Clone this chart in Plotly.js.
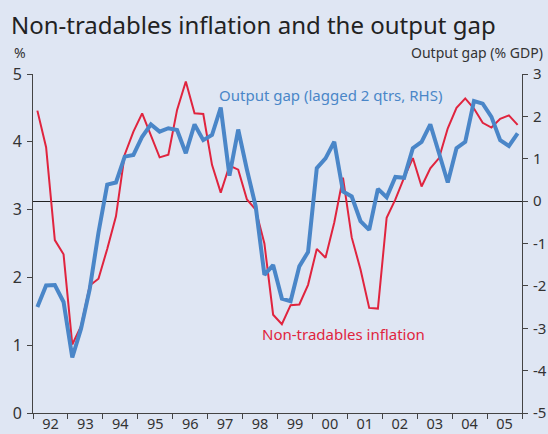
<!DOCTYPE html>
<html>
<head>
<meta charset="utf-8">
<script src="https://cdn.plot.ly/plotly-3.0.1.min.js"></script>
<style>
html,body{margin:0;padding:0;background:#dfe6f3;}
#chart{width:548px;height:434px;}
</style>
</head>
<body>
<div id="chart"></div>
<script>
// Quarterly data, 1992 Q1 to 2005 Q4
var startYear = 1992;
var yearLabels = ['92','93','94','95','96','97','98','99','00','01','02','03','04','05'];
var leftTicks = [0, 1, 2, 3, 4, 5];
var rightTicks = [-5, -4, -3, -2, -1, 0, 1, 2, 3];

// Non-tradables inflation (%, LHS)
var nonTradables = [
  4.46, 3.92, 2.55, 2.34,
  1.01, 1.28, 1.88, 1.98,
  2.42, 2.90, 3.81, 4.15,
  4.42, 4.10, 3.77, 3.81,
  4.47, 4.89, 4.42, 4.41,
  3.66, 3.25, 3.65, 3.59,
  3.15, 3.00, 2.50, 1.45,
  1.31, 1.59, 1.60, 1.89,
  2.42, 2.29, 2.81, 3.47,
  2.59, 2.12, 1.55, 1.54,
  2.88, 3.15, 3.47, 3.76,
  3.34, 3.61, 3.76, 4.20,
  4.50, 4.64, 4.49, 4.28,
  4.21, 4.34, 4.39, 4.25
];

// Output gap, lagged 2 quarters (% GDP, RHS)
var outputGap = [
  -2.50, -1.99, -1.98, -2.38,
  -3.69, -3.01, -2.07, -0.74,
   0.39,  0.44,  1.05,  1.09,
   1.52,  1.81,  1.64,  1.72,
   1.68,  1.13,  1.81,  1.44,
   1.56,  2.21,  0.60,  1.69,
   0.74, -0.12, -1.74, -1.51,
  -2.30, -2.36, -1.54, -1.20,
   0.78,  1.01,  1.40,  0.23,
   0.11, -0.47, -0.68,  0.29,
   0.09,  0.57,  0.55,  1.25,
   1.40,  1.81,  1.13,  0.44,
   1.25,  1.40,  2.36,  2.30,
   1.99,  1.44,  1.30,  1.60
];

// quarter mid-points as fractional years
var quarters = nonTradables.map(function(_, i){ return startYear + (i + 0.5) / 4; });
var yearTicks = yearLabels.map(function(_, i){ return startYear + i; }).concat([startYear + yearLabels.length]);
var yearMids = yearLabels.map(function(_, i){ return startYear + i + 0.5; });

var FONT = 'Noto Sans, Open Sans, sans-serif';
var BG = '#dfe6f3';
var BLUE = '#4a86c8';
var RED = '#e0243e';
var AX = '#444444';
var TXT = '#333333';

var traces = [
  {x: quarters, y: outputGap, yaxis: 'y2', xaxis: 'x', type: 'scatter', mode: 'lines',
   line: {color: BLUE, width: 4}, hoverinfo: 'skip'},
  {x: quarters, y: nonTradables, type: 'scatter', mode: 'lines',
   line: {color: RED, width: 2}, hoverinfo: 'skip'},
  // dummy trace to activate the label axis
  {x: [startYear], y: [null], xaxis: 'x2', yaxis: 'y', type: 'scatter', mode: 'lines', hoverinfo: 'skip'}
];

var layout = {
  width: 548, height: 434,
  paper_bgcolor: BG, plot_bgcolor: BG,
  margin: {l: 32.5, r: 26, t: 73.5, b: 21, pad: 0},
  showlegend: false,
  font: {family: FONT, color: TXT, size: 16},
  title: {text: 'Non-tradables inflation and the output gap',
          font: {family: FONT, size: 24, color: '#222222'},
          x: 0.02, xanchor: 'left', xref: 'container',
          y: 1 - 26/434, yanchor: 'middle', yref: 'container'},
  xaxis: {range: [startYear, startYear + yearLabels.length], tickmode: 'array',
          tickvals: yearTicks, ticktext: yearTicks.map(function(){return '';}),
          ticks: 'outside', ticklen: 5, tickcolor: AX, tickwidth: 1,
          showline: true, linecolor: AX, linewidth: 1, showgrid: false, zeroline: false},
  xaxis2: {range: [startYear, startYear + yearLabels.length], overlaying: 'x', side: 'bottom',
           tickmode: 'array', tickvals: yearMids, ticktext: yearLabels, ticks: '',
           showline: false, showgrid: false, zeroline: false,
           tickfont: {size: 14.5, color: TXT}, ticklabelstandoff: 0},
  yaxis: {range: [0, 5], tickmode: 'array', tickvals: leftTicks,
          ticktext: leftTicks.map(String),
          ticks: 'outside', ticklen: 5, tickcolor: AX,
          showline: true, linecolor: AX, linewidth: 1, showgrid: false, zeroline: false,
          tickfont: {size: 16, color: TXT}, ticklabelstandoff: 2},
  yaxis2: {range: [-5, 3], tickmode: 'array', tickvals: rightTicks,
           ticktext: rightTicks.map(function(v){ return String(v); }),
           overlaying: 'y', side: 'right',
           ticks: 'outside', ticklen: 5, tickcolor: AX,
           showline: true, linecolor: AX, linewidth: 1, showgrid: false,
           zeroline: true, zerolinecolor: '#222222', zerolinewidth: 1,
           tickfont: {size: 15, color: TXT}, ticklabelstandoff: 2},
  annotations: [
    {text: '%', xref: 'paper', yref: 'paper', x: -0.042, y: 1.062, xanchor: 'left', yanchor: 'middle',
     showarrow: false, font: {size: 14, color: TXT}},
    {text: 'Output gap (% GDP)', xref: 'paper', yref: 'paper', x: 1.047, y: 1.062, xanchor: 'right', yanchor: 'middle',
     showarrow: false, font: {size: 14, color: TXT}},
    {text: 'Output gap (lagged 2 qtrs, RHS)', xref: 'paper', yref: 'paper', x: 0.376, y: 0.937,
     xanchor: 'left', yanchor: 'middle', showarrow: false, font: {size: 15, color: BLUE}},
    {text: 'Non-tradables inflation', xref: 'paper', yref: 'paper', x: 0.465, y: 0.234,
     xanchor: 'left', yanchor: 'middle', showarrow: false, font: {size: 15, color: RED}}
  ]
};

Plotly.newPlot('chart', traces, layout, {displayModeBar: false, staticPlot: true});
</script>
</body>
</html>
